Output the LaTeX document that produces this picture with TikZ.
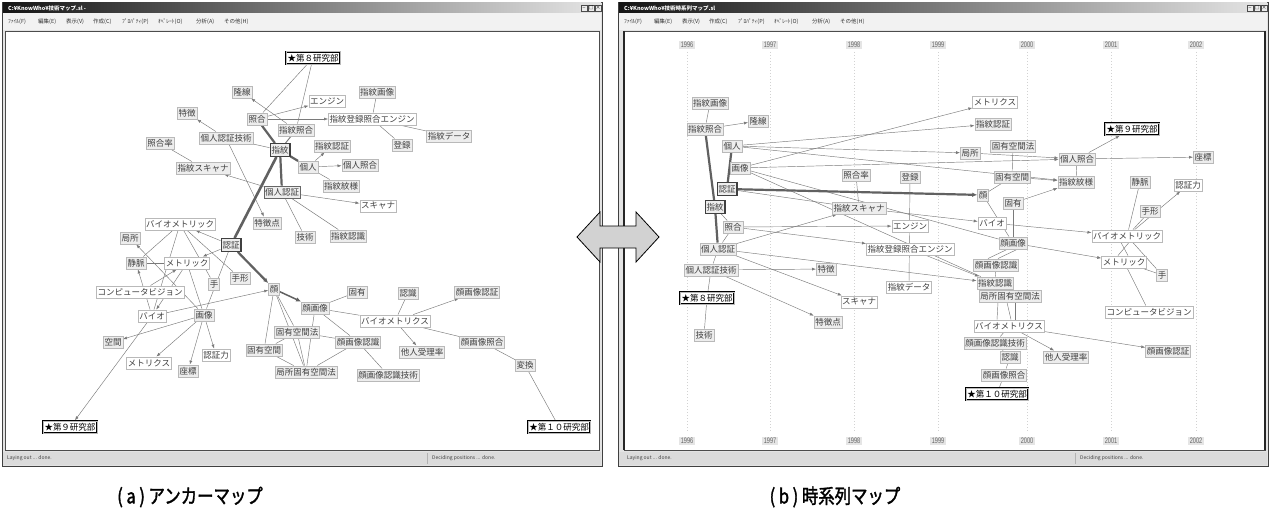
\documentclass[tikz,border=0pt]{standalone}
\usepackage{fontspec}
\setmainfont{Noto Sans CJK JP}
\newfontfamily\capfont[FakeStretch=0.82,FakeBold=1.6]{Noto Sans CJK JP}
\newfontfamily\yrfont[FakeStretch=0.7]{Liberation Sans}
\usetikzlibrary{arrows.meta}
\pgfdeclarelayer{back}
\pgfdeclarelayer{edges}
\pgfsetlayers{back,edges,main}
\tikzset{
  lab/.style={draw=gray!55, fill=gray!14, inner sep=1.3pt, minimum height=12.5pt, font=\fontsize{8.5}{9}\selectfont, text=black!75},
  labw/.style={lab, fill=white},
  keyn/.style={lab, draw=black!75, line width=1.4pt},
  resn/.style={lab, fill=white, draw=black, line width=0.9pt, double=gray!55, double distance=0.5pt, text=black},
  ed/.style={draw=black!52, line width=0.45pt},
  ar/.style={ed, -{Latex[length=4pt,width=3pt]}},
  thk/.style={draw=black!62, line width=2.2pt},
  thka/.style={thk, -{Latex[length=5pt,width=4.5pt]}},
  yr/.style={fill=gray!20, inner sep=1.5pt, font=\yrfont\fontsize{8}{8}\selectfont, text=black!60},
  gridln/.style={draw=gray!35, dash pattern=on 1pt off 2pt, line width=0.5pt},
  menut/.style={anchor=west, font=\fontsize{5.5}{6}\selectfont, inner sep=0pt, text=black!80},
  titlet/.style={anchor=west, font=\fontsize{5.5}{6}\selectfont\bfseries, inner sep=0pt, text=white},
  statt/.style={anchor=west, font=\fontsize{5}{5}\selectfont, inner sep=0pt, text=black!75},
  btn/.style={draw=gray!60!black, fill=gray!15, minimum width=6pt, minimum height=6pt, inner sep=0pt, font=\fontsize{5}{5}\selectfont},
}
\begin{document}
\begin{tikzpicture}[x=1pt,y=-1pt]
\useasboundingbox (0,0) rectangle (1270,519);

% ---------------- window chrome ----------------
\begin{pgfonlayer}{back}
\fill[white] (0,0) rectangle (1270,519);
% left window
\fill[gray!22] (2,2) rectangle (602,466);
\draw[gray!50!black] (2,2) rectangle (602,466);
\shade[left color=black!92, right color=gray!20] (3,3) rectangle (601,13);
\fill[gray!10] (3,13) rectangle (601,30);
\fill[white] (5,31) rectangle (599,450);
\draw[gray!60!black, line width=0.8pt] (5,31) rectangle (599,450);
\fill[gray!28] (3,452) rectangle (601,465);
\draw[gray!60] (427,453) -- (427,464);
% right window
\fill[gray!22] (618,2) rectangle (1268,466);
\draw[gray!50!black] (618,2) rectangle (1268,466);
\shade[left color=black!92, right color=gray!20] (619,3) rectangle (1267,13);
\fill[gray!10] (619,13) rectangle (1267,30);
\fill[white] (624,31) rectangle (1265,450);
\draw[gray!60!black, line width=0.8pt] (624,31) rectangle (1265,450);
\draw[black!85, line width=1.2pt] (624,31) -- (624,450) (1265,31) -- (1265,450);
\fill[gray!28] (619,452) rectangle (1267,465);
\draw[gray!60] (1075,453) -- (1075,464);
% time grid
\foreach \gx in {687,770,854,938,1027,1111,1196} \draw[gridln] (\gx,52) -- (\gx,432);
\end{pgfonlayer}

% title bars, menus, status bars
\node[titlet] (tl) at (8,8) {C:¥KnowWho¥技術マップ.sl -};
\node[titlet] (tr) at (624,8) {C:¥KnowWho¥技術時系列マップ.sl};
\node[btn] (bl1) at (584,8) {\_};
\node[btn] (bl2) at (591,8) {□};
\node[btn] (bl3) at (598,8) {×};
\node[btn] (br1) at (1250,8) {\_};
\node[btn] (br2) at (1257,8) {□};
\node[btn] (br3) at (1264,8) {×};
\foreach \ox/\pre in {0/L,616/R}{
  \node[menut] (\pre m1) at (8+\ox,22) {ﾌｧｲﾙ(F)};
  \node[menut] (\pre m2) at (38+\ox,22) {編集(E)};
  \node[menut] (\pre m3) at (66+\ox,22) {表示(V)};
  \node[menut] (\pre m4) at (93+\ox,22) {作成(C)};
  \node[menut] (\pre m5) at (122+\ox,22) {ﾌﾟﾛﾊﾟﾃｨ(P)};
  \node[menut] (\pre m6) at (158+\ox,22) {ｵﾍﾟﾚｰﾄ(O)};
  \node[menut] (\pre m7) at (196+\ox,22) {分析(A)};
  \node[menut] (\pre m8) at (224+\ox,22) {その他(H)};
}
\node[statt] (sl1) at (7,458) {Laying out ... done.};
\node[statt] (sl2) at (432,458) {Deciding positions ... done.};
\node[statt] (sr1) at (627,458) {Laying out ... done.};
\node[statt] (sr2) at (1080,458) {Deciding positions ... done.};

% year labels
\foreach \gx/\yy in {687/1996,770/1997,854/1998,938/1999,1027/2000,1111/2001,1196/2002}{
  \node[yr] (yt\yy) at (\gx,45) {\yy};
  \node[yr] (yb\yy) at (\gx,441) {\yy};
}

% ---------------- left: anchor map ----------------
\node[resn] (L_r8) at (313,58) {★第８研究部};
\node[lab] (L_ryusen) at (242,92) {隆線};
\node[labw] (L_engine) at (327,101) {エンジン};
\node[lab] (L_sgazo) at (377,92) {指紋画像};
\node[lab] (L_tokucho) at (187,113) {特徴};
\node[lab] (L_shogo) at (257,119) {照合};
\node[labw] (L_teng) at (372,119) {指紋登録照合エンジン};
\node[lab] (L_sshogo) at (296,130) {指紋照合};
\node[lab] (L_kngj) at (226,138) {個人認証技術};
\node[lab] (L_shogoritsu) at (160,143) {照合率};
\node[lab] (L_sninsho) at (332,146) {指紋認証};
\node[lab] (L_toroku) at (402,145) {登録};
\node[lab] (L_sdata) at (449,136) {指紋データ};
\node[keyn] (L_shimon) at (280,150) {指紋};
\node[lab] (L_sscan) at (203,168) {指紋スキャナ};
\node[lab] (L_kojin) at (308,167) {個人};
\node[lab] (L_kshogo) at (360,165) {個人照合};
\node[lab] (L_smonyo) at (341,186) {指紋紋様};
\node[lab, draw=gray!80!black] (L_kninsho) at (282,192) {個人認証};
\node[labw] (L_scan) at (378,206) {スキャナ};
\node[lab] (L_tokuchoten) at (267,223) {特徴点};
\node[lab] (L_gijutsu) at (305,237) {技術};
\node[lab] (L_sninshiki) at (348,236) {指紋認識};
\node[labw] (L_biometric) at (180,224) {バイオメトリック};
\node[lab] (L_kyokusho) at (130,238) {局所};
\node[keyn] (L_ninsho) at (231,245) {認証};
\node[lab] (L_jomyaku) at (136,263) {静脈};
\node[labw] (L_metric) at (187,263) {メトリック};
\node[lab] (L_te) at (214,284) {手};
\node[lab] (L_tegata) at (240,278) {手形};
\node[labw] (L_cv) at (140,292) {コンピュータビジョン};
\node[labw] (L_bio) at (152,316) {バイオ};
\node[lab] (L_gazo) at (204,315) {画像};
\node[lab] (L_kao) at (274,289) {顔};
\node[lab] (L_kgazo) at (315,308) {顔画像};
\node[lab] (L_koyu) at (357,292) {固有};
\node[lab] (L_ninshiki) at (408,293) {認識};
\node[lab] (L_kgninsho) at (477,292) {顔画像認証};
\node[labw] (L_biometrics) at (395,321) {バイオメトリクス};
\node[lab] (L_kkho) at (297,332) {固有空間法};
\node[lab] (L_kgninshiki) at (358,342) {顔画像認識};
\node[lab] (L_tanin) at (422,352) {他人受理率};
\node[lab] (L_kgshogo) at (482,342) {顔画像照合};
\node[lab] (L_kk) at (264,350) {固有空間};
\node[lab] (L_kykkho) at (306,372) {局所固有空間法};
\node[lab] (L_kgnsgj) at (388,375) {顔画像認識技術};
\node[lab] (L_henkan) at (525,365) {変換};
\node[lab] (L_kukan) at (113,342) {空間};
\node[labw] (L_metrics) at (149,363) {メトリクス};
\node[lab] (L_zahyo) at (188,371) {座標};
\node[labw] (L_ninshoryoku) at (216,355) {認証力};
\node[resn] (L_r9) at (70,427) {★第９研究部};
\node[resn] (L_r10) at (559,427) {★第１０研究部};

\begin{pgfonlayer}{edges}
\draw[ed] (L_r8) -- (L_shogo);
\draw[ed] (L_r8) -- (L_sshogo);
\draw[ar] (L_shogo) -- (L_engine);
\draw[ar] (L_shogo) -- (L_teng);
\draw[ar] (L_sshogo) -- (L_ryusen);
\draw[ed] (L_sgazo) -- (L_teng);
\draw[ed] (L_teng) -- (L_toroku);
\draw[ed] (L_teng) -- (L_sdata);
\draw[ar] (L_kngj) -- (L_tokucho);
\draw[ed] (L_kngj) -- (L_shimon);
\draw[ar] (L_kngj) -- (L_tokuchoten);
\draw[ed] (L_shogoritsu) -- (L_sscan);
\draw[thk] (L_shimon) -- (L_shogo);
\draw[ed, line width=1pt] (L_shimon) -- (L_sshogo);
\draw[thk] (L_shimon) -- (L_kojin);
\draw[thk] (L_shimon) -- (L_kninsho);
\draw[thk, line width=2.6pt] (L_shimon) -- (L_ninsho);
\draw[ar] (L_kojin) -- (L_kshogo);
\draw[ar] (L_kojin) -- (L_sninsho);
\draw[ed] (L_kojin) -- (L_smonyo);
\draw[ar] (L_kninsho) -- (L_sscan);
\draw[ed] (L_kninsho) -- (L_gijutsu);
\draw[ar] (L_kninsho) -- (L_scan);
\draw[ed] (L_kninsho) -- (L_sninshiki);
\draw[ar] (L_ninsho) -- (L_biometric);
\draw[ar] (L_ninsho) -- (L_metric);
\draw[thka] (L_ninsho) -- (L_kao);
\draw[ed] (L_ninsho) -- (L_gazo);
\draw[ed] (L_biometric) -- (L_jomyaku);
\draw[ed] (L_biometric) -- (L_bio);
\draw[ed] (L_biometric) -- (L_tegata);
\draw[ed] (L_biometric) -- (L_te);
\draw[ed] (L_jomyaku) -- (L_metric);
\draw[ar] (L_bio) -- (L_jomyaku);
\draw[ar] (L_metric) -- (L_bio);
\draw[ar] (L_cv) -- (L_metric);
\draw[ed] (L_gazo) -- (L_metric);
\draw[ar] (L_bio) -- (L_kao);
\draw[ar] (L_gazo) -- (L_kyokusho);
\draw[ar] (L_gazo) -- (L_kukan);
\draw[ar] (L_gazo) -- (L_metrics);
\draw[ar] (L_gazo) -- (L_zahyo);
\draw[ar] (L_gazo) -- (L_ninshoryoku);
\draw[ar] (L_bio) -- (L_r9);
\draw[thka, line width=1.5pt] (L_kao) -- (L_kgazo);
\draw[ed] (L_kao) -- (L_kkho);
\draw[ed] (L_kao) -- (L_kk);
\draw[ed] (L_kao) -- (L_kykkho);
\draw[ed] (L_kgazo) -- (L_koyu);
\draw[ed] (L_kgazo) -- (L_biometrics);
\draw[ed] (L_kgazo) -- (L_kgninshiki);
\draw[ed] (L_kgazo) -- (L_kykkho);
\draw[ed] (L_kkho) -- (L_kk);
\draw[ed] (L_kkho) -- (L_kykkho);
\draw[ed] (L_kkho) -- (L_kgninshiki);
\draw[ed] (L_kk) -- (L_kykkho);
\draw[ed] (L_kgninshiki) -- (L_kykkho);
\draw[ed] (L_kgninshiki) -- (L_kgnsgj);
\draw[ed] (L_biometrics) -- (L_ninshiki);
\draw[ar] (L_biometrics) -- (L_kgninsho);
\draw[ar] (L_biometrics) -- (L_tanin);
\draw[ed] (L_biometrics) -- (L_kgshogo);
\draw[ed] (L_kgshogo) -- (L_henkan);
\draw[ed] (L_henkan) -- (L_r10);
\end{pgfonlayer}

% ---------------- right: time-series map ----------------
\node[lab] (R_sgazo) at (710,103) {指紋画像};
\node[lab] (R_sshogo) at (705,129) {指紋照合};
\node[lab] (R_ryusen) at (758,121) {隆線};
\node[lab] (R_kojin) at (732,146) {個人};
\node[lab] (R_gazo) at (740,168) {画像};
\node[lab] (R_shogoritsu) at (856,175) {照合率};
\node[lab] (R_toroku) at (910,177) {登録};
\node[keyn] (R_ninsho) at (727,189) {認証};
\node[keyn] (R_shimon) at (715,207) {指紋};
\node[lab] (R_sscan) at (859,208) {指紋スキャナ};
\node[lab] (R_shogo) at (733,227) {照合};
\node[labw] (R_engine) at (910,226) {エンジン};
\node[labw] (R_metrics) at (995,102) {メトリクス};
\node[lab] (R_sninsho) at (993,124) {指紋認証};
\node[resn] (R_r9) at (1132,129) {★第９研究部};
\node[lab] (R_kkho) at (1013,146) {固有空間法};
\node[lab] (R_kyokusho) at (970,153) {局所};
\node[lab] (R_kshogo) at (1077,159) {個人照合};
\node[lab] (R_zahyo) at (1203,157) {座標};
\node[lab] (R_kk) at (1012,177) {固有空間};
\node[lab] (R_smonyo) at (1076,182) {指紋紋様};
\node[lab] (R_jomyaku) at (1140,182) {静脈};
\node[labw] (R_ninshoryoku) at (1188,185) {認証力};
\node[lab] (R_kao) at (983,195) {顔};
\node[lab] (R_koyu) at (1013,203) {固有};
\node[lab] (R_tegata) at (1150,211) {手形};
\node[labw] (R_bio) at (992,223) {バイオ};
\node[labw] (R_biometric) at (1127,236) {バイオメトリック};
\node[lab] (R_kgazo) at (1013,243) {顔画像};
\node[labw] (R_metric) at (1124,262) {メトリック};
\node[lab] (R_te) at (1162,275) {手};
\node[lab] (R_kninsho) at (718,249) {個人認証};
\node[labw] (R_teng) at (910,249) {指紋登録照合エンジン};
\node[lab] (R_kgninshiki) at (996,265) {顔画像認識};
\node[lab] (R_kngj) at (711,270) {個人認証技術};
\node[lab] (R_tokucho) at (826,269) {特徴};
\node[labw] (R_sdata) at (909,287) {指紋データ};
\node[lab] (R_sninshiki) at (995,283) {指紋認識};
\node[lab] (R_kykkho) at (1010,296) {局所固有空間法};
\node[resn] (R_r8) at (707,298) {★第８研究部};
\node[labw] (R_scan) at (859,302) {スキャナ};
\node[labw] (R_cv) at (1149,312) {コンピュータビジョン};
\node[lab] (R_tokuchoten) at (828,322) {特徴点};
\node[labw] (R_biometrics) at (1009,326) {バイオメトリクス};
\node[lab] (R_gijutsu) at (704,335) {技術};
\node[lab] (R_kgnsgj) at (995,343) {顔画像認識技術};
\node[lab] (R_kgninsho) at (1168,351) {顔画像認証};
\node[lab] (R_tanin) at (1066,357) {他人受理率};
\node[lab] (R_ninshiki) at (1010,357) {認識};
\node[lab] (R_kgshogo) at (1004,375) {顔画像照合};
\node[resn] (R_r10) at (997,394) {★第１０研究部};

\begin{pgfonlayer}{edges}
\draw[ed] (R_sgazo) -- (R_sshogo);
\draw[ar] (R_sshogo) -- (R_ryusen);
\draw[thk] (R_sshogo) -- (R_shimon);
\draw[thk] (R_kojin) -- (R_ninsho);
\draw[thk] (R_shimon) -- (R_kninsho);
\draw[ed] (R_shimon) -- (R_shogo);
\draw[ar] (R_kojin) -- (R_sninsho);
\draw[ar] (R_kojin) -- (R_kyokusho);
\draw[ar] (R_kojin) -- (R_smonyo);
\draw[ar] (R_gazo) -- (R_metrics);
\draw[ar] (R_gazo) -- (R_kshogo);
\draw[ed] (R_gazo) -- (R_kgazo);
\draw[ed] (R_gazo) -- (R_sninshiki);
\draw[thka] (R_ninsho) -- (R_kao);
\draw[ed] (R_ninsho) -- (R_sscan);
\draw[ar] (R_sscan) -- (R_bio);
\draw[ed] (R_shogoritsu) -- (R_sscan);
\draw[ed] (R_toroku) -- (R_sdata);
\draw[ar] (R_shogo) -- (R_engine);
\draw[ar] (R_shogo) -- (R_teng);
\draw[ed] (R_shogo) -- (R_kninsho);
\draw[ar] (R_kninsho) -- (R_sscan);
\draw[ar] (R_kninsho) -- (R_sninshiki);
\draw[ar] (R_kninsho) -- (R_scan);
\draw[ed] (R_kninsho) -- (R_kngj);
\draw[ar] (R_kngj) -- (R_tokucho);
\draw[ar] (R_kngj) -- (R_tokuchoten);
\draw[ed] (R_kngj) -- (R_r8);
\draw[ed] (R_r8) -- (R_gijutsu);
\draw[ar] (R_teng) -- (R_sninshiki);
\draw[ar] (R_kyokusho) -- (R_kshogo);
\draw[ed] (R_kkho) -- (R_kk);
\draw[ar] (R_kshogo) -- (R_r9);
\draw[ar] (R_kshogo) -- (R_zahyo);
\draw[ed] (R_kshogo) -- (R_smonyo);
\draw[ar] (R_kk) -- (R_smonyo);
\draw[ar] (R_koyu) -- (R_smonyo);
\draw[ed] (R_kao) -- (R_kk);
\draw[ed] (R_kao) -- (R_kgazo);
\draw[ed] (R_koyu) -- (R_kgazo);
\draw[ar] (R_bio) -- (R_biometric);
\draw[ar] (R_kgazo) -- (R_metric);
\draw[ed] (R_jomyaku) -- (R_biometric);
\draw[ed] (R_tegata) -- (R_biometric);
\draw[ar] (R_biometric) -- (R_ninshoryoku);
\draw[ed] ([xshift=-6pt]R_biometric.south) -- ([xshift=4pt]R_metric.north);
\draw[ed] ([xshift=2pt]R_biometric.south) -- ([xshift=-6pt]R_metric.north);
\draw[ed] (R_biometric) -- (R_te);
\draw[ed] (R_metric) -- (R_te);
\draw[ed] (R_metric) -- (R_cv);
\draw[ed] ([xshift=-6pt]R_kgazo.south) -- ([xshift=-8pt]R_kgninshiki.north);
\draw[ed] ([xshift=4pt]R_kgazo.south) -- ([xshift=2pt]R_kgninshiki.north);
\draw[ed] (R_kgninshiki) -- (R_sninshiki);
\draw[ed] ([xshift=-12pt]R_kykkho.south) -- ([xshift=-12pt]R_biometrics.north);
\draw[ed] ([xshift=-3pt]R_kykkho.south) -- ([xshift=2pt]R_biometrics.north);
\draw[ed] ([xshift=5pt]R_kykkho.south) -- ([xshift=6pt]R_biometrics.north);
\draw[ed] (R_biometrics) -- (R_kgnsgj);
\draw[ar] (R_biometrics) -- (R_kgninsho);
\draw[ar] (R_biometrics) -- (R_tanin);
\draw[ed] (R_kgnsgj) -- (R_ninshiki);
\draw[ed] (R_ninshiki) -- (R_kgshogo);
\draw[ed] (R_kgshogo) -- (R_r10);
\end{pgfonlayer}

% double arrow between the two maps
\draw[fill=gray!35, draw=black, line width=0.8pt, line join=miter]
  (577,237) -- (600,212) -- (600,226) -- (636,226) -- (636,212) -- (659,237)
  -- (636,262) -- (636,248) -- (600,248) -- (600,262) -- cycle;

% captions
\node[inner sep=0pt, font=\capfont\fontsize{20}{21}\selectfont] (capa) at (190,497) {( a ) アンカーマップ};
\node[inner sep=0pt, font=\capfont\fontsize{20}{21}\selectfont] (capb) at (835,497) {( b ) 時系列マップ};
\end{tikzpicture}
\end{document}
